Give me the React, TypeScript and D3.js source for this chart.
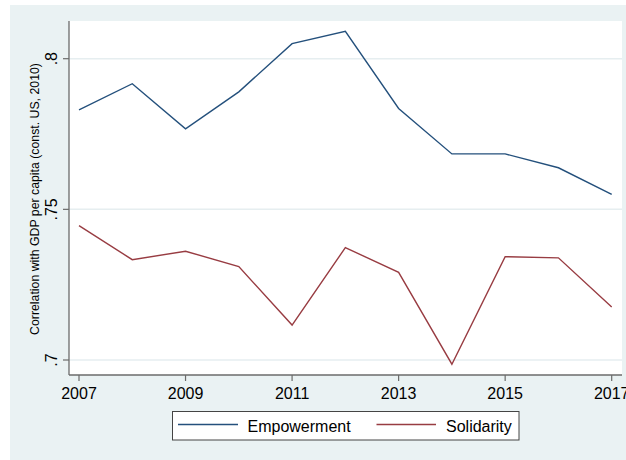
import React from "react";
import * as d3 from "d3";

const years = [2007, 2008, 2009, 2010, 2011, 2012, 2013, 2014, 2015, 2016, 2017];
const empowerment = [0.783, 0.7917, 0.7767, 0.789, 0.805, 0.8091, 0.7835, 0.7684, 0.7684, 0.7638, 0.755];
const solidarity = [0.7446, 0.7333, 0.7361, 0.731, 0.7116, 0.7373, 0.7291, 0.6986, 0.7343, 0.7339, 0.7176];
const xTicks = [2007, 2009, 2011, 2013, 2015, 2017];
const yTicks = [0.7, 0.75, 0.8];
const yTickLabels = [".7", ".75", ".8"];
const seriesNames = ["Empowerment", "Solidarity"];
const yTitle = "Correlation with GDP per capita (const. US, 2010)";

const W = 626;
const H = 460;
const FONT = "'Liberation Sans', Arial, Helvetica, sans-serif";
const C_EMP = "#24507c";
const C_SOL = "#983c42";
const BG = "#eaf2f3";
const GRID = "#e6eef0";
const AXIS = "#6b6b6b";

export default function App() {
  const plot = { left: 69, right: 622, top: 21, bottom: 375 };
  const x = d3.scaleLinear().domain([2007, 2017]).range([79, 611.7]);
  const y = d3.scaleLinear().domain([0.7, 0.8]).range([360, 58.7]);
  const line = d3
    .line<number>()
    .x((_, i) => x(years[i]))
    .y((d) => y(d));

  return (
    <svg
      width={W}
      height={H}
      style={{ position: "absolute", left: 0, top: 0, display: "block" }}
      fontFamily={FONT}
    >
      <rect x={0} y={0} width={W} height={H} fill="#ffffff" />
      <rect x={10} y={5} width={W - 10} height={H - 5} fill={BG} />
      <rect
        x={plot.left}
        y={plot.top}
        width={plot.right - plot.left}
        height={plot.bottom - plot.top}
        fill="#ffffff"
      />
      {yTicks.map((t) => (
        <line
          key={"g" + t}
          x1={plot.left}
          x2={plot.right}
          y1={y(t)}
          y2={y(t)}
          stroke={GRID}
          strokeWidth={1.5}
        />
      ))}
      <path d={line(empowerment) || ""} fill="none" stroke={C_EMP} strokeWidth={1.4} strokeLinejoin="miter" />
      <path d={line(solidarity) || ""} fill="none" stroke={C_SOL} strokeWidth={1.4} strokeLinejoin="miter" />
      {/* axes */}
      <line x1={plot.left} x2={plot.left} y1={plot.top} y2={plot.bottom} stroke={AXIS} strokeWidth={1.3} />
      <line x1={plot.left} x2={plot.right} y1={plot.bottom} y2={plot.bottom} stroke={AXIS} strokeWidth={1.3} />
      {yTicks.map((t, i) => (
        <g key={"y" + t}>
          <line x1={plot.left - 6} x2={plot.left} y1={y(t)} y2={y(t)} stroke={AXIS} strokeWidth={1.2} />
          <text
            transform={`translate(57,${y(t)}) rotate(-90)`}
            textAnchor="middle"
            fontSize={16}
            fill="#000"
          >
            {yTickLabels[i]}
          </text>
        </g>
      ))}
      {xTicks.map((t) => (
        <g key={"x" + t}>
          <line x1={x(t)} x2={x(t)} y1={plot.bottom} y2={plot.bottom + 6} stroke={AXIS} strokeWidth={1.2} />
          <text x={x(t)} y={399} textAnchor="middle" fontSize={16} fill="#000">
            {t}
          </text>
        </g>
      ))}
      <text
        transform={`translate(39,${(plot.top + plot.bottom) / 2 + 1}) rotate(-90)`}
        textAnchor="middle"
        fontSize={12.3}
        fill="#000"
      >
        {yTitle}
      </text>
      {/* legend */}
      <rect x={172.5} y={411.5} width={346.5} height={28.5} fill="#ffffff" stroke="#444" strokeWidth={1} />
      <line x1={178} x2={238} y1={424.5} y2={424.5} stroke={C_EMP} strokeWidth={1.4} />
      <text x={247.5} y={431.5} fontSize={16} fill="#000">
        {seriesNames[0]}
      </text>
      <line x1={376.5} x2={436} y1={424.5} y2={424.5} stroke={C_SOL} strokeWidth={1.4} />
      <text x={446} y={431.5} fontSize={16} fill="#000">
        {seriesNames[1]}
      </text>
    </svg>
  );
}
